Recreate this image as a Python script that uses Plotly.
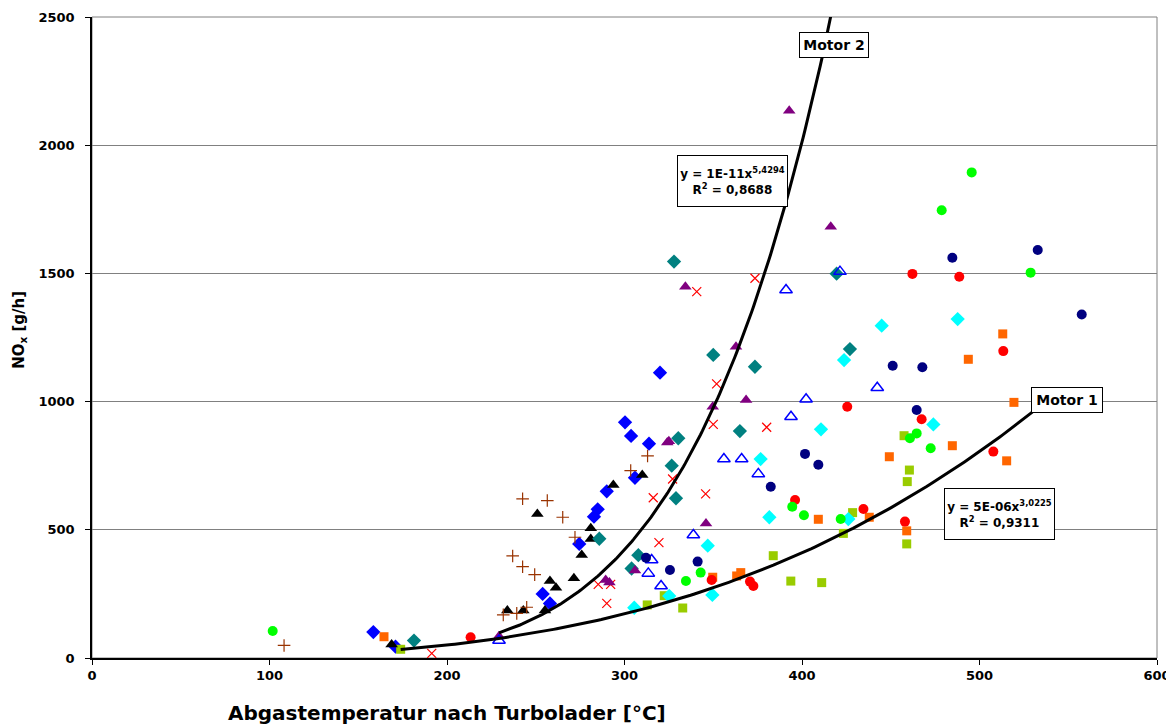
import numpy as np
import plotly.graph_objects as go

# ---------------- data (x = Abgastemperatur °C, y = NOx g/h) ----------------
blue_dia_x = [158.5, 171, 253.9, 258, 274.5, 282.8, 284.9, 290, 300.3, 303.7, 305.9, 313.8, 320]
blue_dia_y = [101, 44, 250, 213, 445, 551, 580, 650, 919, 866, 703, 836, 1113]

black_tri_x = [168.8, 234, 243, 250.9, 255.2, 258, 261.4, 271.5, 275.9, 281, 281, 293.7, 310]
black_tri_y = [53, 185, 185, 562, 185, 300, 274, 311, 402, 464, 506, 675, 714]

brown_plus_x = [108.2, 231.7, 237, 239.3, 242.6, 242.6, 244.9, 249.4, 256.5, 265.2, 272.1, 303.5, 313]
brown_plus_y = [49, 168, 398, 174, 621, 356, 198, 325, 614, 549, 471, 731, 788]

red_x_x = [191.4, 285.2, 290, 292.2, 316.2, 319.4, 327.1, 340.7, 345.7, 350, 351.9, 373.5, 380.1]
red_x_y = [18, 287, 213, 287, 625, 450, 698, 1429, 640, 911, 1069, 1481, 900]

teal_dia_x = [181.4, 285.8, 304, 307.8, 326.6, 327.9, 329, 330.3, 350, 365, 373.5, 419.5, 427]
teal_dia_y = [68, 465, 349, 401, 750, 1546, 623, 857, 1182, 885, 1136, 1499, 1205]

purple_tri_x = [229.3, 289.4, 291.5, 305.9, 324.1, 325, 334.3, 345.9, 349.7, 362.8, 368.5, 392.8, 416.2]
purple_tri_y = [85, 304, 294, 341, 840, 845, 1448, 525, 980, 1214, 1006, 2134, 1682]

blue_open_x = [229.3, 313.4, 315.3, 320.6, 338.8, 356, 366, 375.4, 391, 393.8, 402.3, 421.4, 442.4]
blue_open_y = [68, 330, 382, 281, 480, 776, 776, 718, 1435, 941, 1009, 1507, 1054]

cyan_dia_x = [305.5, 325.2, 346.9, 349.5, 376.7, 381.6, 410.7, 423.7, 426.1, 444.9, 474, 487.7]
cyan_dia_y = [196, 242, 438, 246, 776, 549, 892, 1162, 542, 1296, 911, 1322]

navy_circ_x = [312.1, 325.6, 341.2, 382.4, 401.7, 409.2, 451.1, 464.6, 467.8, 484.7, 532.8, 557.6]
navy_circ_y = [391, 343, 376, 668, 796, 754, 1140, 967, 1134, 1561, 1591, 1340]

red_circ_x = [213.3, 349.1, 370.7, 372.6, 396.1, 425.5, 434.6, 458, 462.2, 467.4, 488.6, 507.8, 513.4]
red_circ_y = [81, 304, 298, 281, 616, 980, 581, 532, 1498, 931, 1487, 805, 1197]

green_circ_x = [101.8, 334.6, 342.9, 394.5, 401.1, 421.8, 460.8, 464.6, 472.5, 478.7, 495.6, 528.8]
green_circ_y = [105, 300, 333, 590, 557, 542, 857, 876, 818, 1746, 1894, 1503]

orange_sq_x = [164.5, 349.7, 363.2, 365.5, 409.2, 437.9, 449.2, 459, 484.7, 493.7, 513.1, 515.3, 519.4]
orange_sq_y = [83, 315, 320, 333, 541, 549, 785, 496, 828, 1165, 1264, 769, 997]

yg_sq_x = [173.9, 312.8, 322.4, 332.8, 383.8, 393.7, 411.1, 423.3, 428.5, 457.5, 459, 459.3, 460.5]
yg_sq_y = [34, 207, 243, 195, 399, 300, 294, 486, 567, 867, 445, 688, 733]

# power-law trendlines y = a * x^b
motor2_a, motor2_b, motor2_xrange = 1.5e-11, 5.4294, (229.3, 442.4)
motor1_a, motor1_b, motor1_xrange = 5.6e-06, 3.0225, (173.9, 531.0)

x_ticks = [0, 100, 200, 300, 400, 500, 600]
y_ticks = [0, 500, 1000, 1500, 2000, 2500]

FONT = "DejaVu Sans, Verdana, sans-serif"

fig = go.Figure()

series = [
    (blue_dia_x, blue_dia_y, dict(symbol="diamond", size=11, color="#0000FF")),
    (orange_sq_x, orange_sq_y, dict(symbol="square", size=9, color="#FF6600")),
    (yg_sq_x, yg_sq_y, dict(symbol="square", size=9, color="#99CC00")),
    (black_tri_x, black_tri_y, dict(symbol="triangle-up", size=11, color="#000000")),
    (brown_plus_x, brown_plus_y, dict(symbol="cross-thin", size=9, color="#993300",
                                      line=dict(color="#993300", width=1.2))),
    (red_x_x, red_x_y, dict(symbol="x-thin", size=9, color="#FF0000",
                            line=dict(color="#FF0000", width=1.2))),
    (teal_dia_x, teal_dia_y, dict(symbol="diamond", size=11, color="#008080")),
    (purple_tri_x, purple_tri_y, dict(symbol="triangle-up", size=11, color="#800080")),
    (blue_open_x, blue_open_y, dict(symbol="triangle-up-open", size=11, color="#0000FF",
                                    line=dict(color="#0000FF", width=1.5))),
    (cyan_dia_x, cyan_dia_y, dict(symbol="diamond", size=11, color="#00FFFF")),
    (navy_circ_x, navy_circ_y, dict(symbol="circle", size=10, color="#000080")),
    (red_circ_x, red_circ_y, dict(symbol="circle", size=10, color="#FF0000")),
    (green_circ_x, green_circ_y, dict(symbol="circle", size=10, color="#00FF00")),
]
for xs, ys, mk in series:
    fig.add_trace(go.Scatter(x=xs, y=ys, mode="markers", marker=mk,
                             showlegend=False, hoverinfo="x+y"))

for a, b, (x0, x1) in [(motor2_a, motor2_b, motor2_xrange), (motor1_a, motor1_b, motor1_xrange)]:
    xs = np.linspace(x0, x1, 200)
    fig.add_trace(go.Scatter(x=xs, y=a * xs ** b, mode="lines",
                             line=dict(color="black", width=3),
                             showlegend=False, hoverinfo="skip"))

box = dict(bordercolor="black", borderwidth=1, bgcolor="white", showarrow=False,
           xref="x", yref="y", xanchor="center", yanchor="middle", borderpad=1)
fig.add_annotation(x=418, y=2390, text="<b>Motor 2</b>", font=dict(family=FONT, size=14, color="black"),
                   width=66, height=22, **box)
fig.add_annotation(x=549.3, y=1008, text="<b>Motor 1</b>", font=dict(family=FONT, size=14, color="black"),
                   width=68, height=22, **box)
fig.add_annotation(x=360.8, y=1860,
                   text="<b>y = 1E-11x<sup>5,4294</sup><br>R<sup>2</sup> = 0,8688</b>",
                   font=dict(family=FONT, size=12, color="black"), align="center",
                   width=107, height=48, **box)
fig.add_annotation(x=511.5, y=563,
                   text="<b>y = 5E-06x<sup>3,0225</sup><br>R<sup>2</sup> = 0,9311</b>",
                   font=dict(family=FONT, size=12, color="black"), align="center",
                   width=107, height=48, **box)

# axis titles
fig.add_annotation(x=0.333, y=-0.0858, xref="paper", yref="paper", showarrow=False,
                   xanchor="center", yanchor="middle",
                   text="<b>Abgastemperatur nach Turbolader [°C]</b>",
                   font=dict(family=FONT, size=20, color="black"))
fig.add_annotation(x=-0.0676, y=0.512, xref="paper", yref="paper", showarrow=False, textangle=-90,
                   xanchor="center", yanchor="middle",
                   text="<b>NO<sub>x</sub> [g/h]</b>",
                   font=dict(family=FONT, size=15, color="black"))

# gray plot-area border
fig.add_shape(type="rect", xref="paper", yref="paper", x0=0, y0=0, x1=1, y1=1,
              line=dict(color="#808080", width=1), layer="below")

# page body has an 8px default margin -> figure sized/offset to compensate
fig.update_layout(
    width=1166, height=716,
    margin=dict(l=84, r=17, t=9, b=66, autoexpand=False),
    paper_bgcolor="white", plot_bgcolor="white",
    font=dict(family=FONT, color="black"),
    xaxis=dict(range=[0, 600], tickvals=x_ticks, showgrid=False, zeroline=False, automargin=False,
               showline=True, linecolor="black", linewidth=1.5,
               ticks="outside", ticklen=5, tickcolor="black",
               tickfont=dict(family=FONT, size=13, color="black", weight="bold")),
    yaxis=dict(range=[0, 2500], tickvals=y_ticks, showgrid=True, gridcolor="#808080", gridwidth=1,
               zeroline=False, showline=True, linecolor="black", linewidth=1.5, automargin=False,
               ticks="outside", ticklen=5, tickcolor="black", ticklabelstandoff=8,
               tickfont=dict(family=FONT, size=13, color="black", weight="bold")),
)

fig.write_html("out.html")
